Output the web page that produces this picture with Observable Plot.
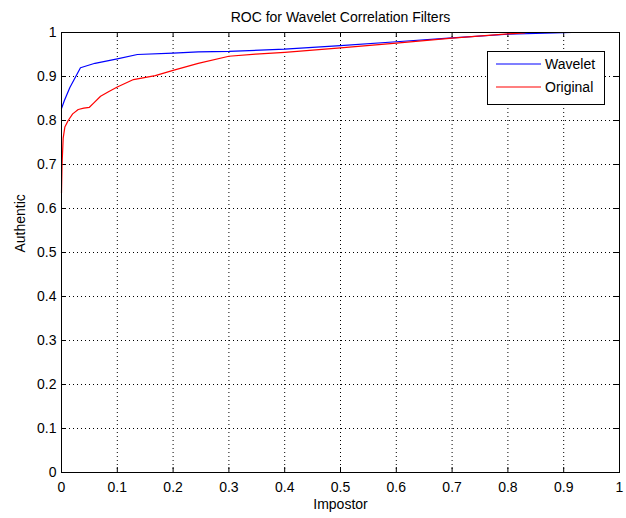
<!DOCTYPE html>
<html>
<head>
<meta charset="utf-8">
<script src="https://cdn.jsdelivr.net/npm/d3@7"></script>
<script src="https://cdn.jsdelivr.net/npm/@observablehq/plot@0.6"></script>
<style>
  html, body { margin: 0; padding: 0; background: #fff; }
  #chart { width: 626px; height: 518px; }
</style>
</head>
<body>
<div id="chart"></div>
<script>
const titleText = "ROC for Wavelet Correlation Filters";
const xLabel = "Impostor";
const yLabel = "Authentic";
const seriesNames = ["Wavelet", "Original"];
const seriesColors = ["#0000ff", "#ff0000"];

const xTicks = [0, 0.1, 0.2, 0.3, 0.4, 0.5, 0.6, 0.7, 0.8, 0.9, 1];
const yTicks = [0, 0.1, 0.2, 0.3, 0.4, 0.5, 0.6, 0.7, 0.8, 0.9, 1];

const waveletX = [0, 0.005, 0.015, 0.034, 0.06, 0.1, 0.136, 0.2, 0.245, 0.3, 0.4, 0.5, 0.6, 0.7, 0.8, 0.85, 0.915];
const waveletY = [0.827, 0.845, 0.875, 0.92, 0.93, 0.94, 0.95, 0.953, 0.956, 0.957, 0.962, 0.97, 0.979, 0.988, 0.996, 0.998, 1.0];

const originalX = [0, 0.001, 0.003, 0.006, 0.012, 0.02, 0.03, 0.04, 0.05, 0.058, 0.07, 0.085, 0.1, 0.129, 0.168, 0.2, 0.245, 0.3, 0.348, 0.4, 0.5, 0.6, 0.7, 0.8, 0.83];
const originalY = [0.635, 0.70, 0.76, 0.785, 0.80, 0.815, 0.825, 0.828, 0.83, 0.84, 0.855, 0.866, 0.876, 0.893, 0.902, 0.914, 0.93, 0.946, 0.951, 0.955, 0.965, 0.976, 0.987, 0.997, 0.999];

const wavelet = waveletX.map((x, i) => ({x, y: waveletY[i]}));
const original = originalX.map((x, i) => ({x, y: originalY[i]}));

const W = 626, H = 518;
const mL = 61, mR = 7, mT = 32, mB = 46;
const innerW = W - mL - mR, innerH = H - mT - mB;
const tickLen = 5;
const fmt = d => String(d);

const plot = Plot.plot({
  width: W,
  height: H,
  marginLeft: mL,
  marginRight: mR,
  marginTop: mT,
  marginBottom: mB,
  style: {fontFamily: "'Liberation Sans', Arial, sans-serif", fontSize: "14px", background: "#fff", color: "#000"},
  x: {domain: [0, 1], ticks: xTicks, tickFormat: fmt},
  y: {domain: [0, 1], ticks: yTicks, tickFormat: fmt},
  marks: [
    Plot.gridX(xTicks, {stroke: "#000", strokeOpacity: 1, strokeDasharray: "1,3", strokeWidth: 1}),
    Plot.gridY(yTicks, {stroke: "#000", strokeOpacity: 1, strokeDasharray: "1,3", strokeWidth: 1}),
    Plot.tickX(xTicks, {x: d => d, insetTop: innerH - tickLen, stroke: "#000"}),
    Plot.tickX(xTicks, {x: d => d, insetBottom: innerH - tickLen, stroke: "#000"}),
    Plot.tickY(yTicks, {y: d => d, insetRight: innerW - tickLen, stroke: "#000"}),
    Plot.tickY(yTicks, {y: d => d, insetLeft: innerW - tickLen, stroke: "#000"}),
    Plot.axisX(xTicks, {tickSize: 0, tickPadding: 10, tickFormat: fmt, label: null, fill: "#000"}),
    Plot.axisY(yTicks, {tickSize: 0, tickPadding: 5, tickFormat: fmt, label: null, fill: "#000"}),
    Plot.line(wavelet, {x: "x", y: "y", stroke: seriesColors[0], strokeWidth: 1.2}),
    Plot.line(original, {x: "x", y: "y", stroke: seriesColors[1], strokeWidth: 1.2}),
    Plot.frame({stroke: "#000", strokeWidth: 1}),
    Plot.text([titleText], {frameAnchor: "top", dy: -20, fill: "#000"}),
    Plot.text([xLabel], {frameAnchor: "bottom", dy: 36, fill: "#000"}),
    Plot.text([yLabel], {frameAnchor: "left", dx: -41, rotate: -90, fill: "#000"})
  ]
});

document.getElementById("chart").appendChild(plot);

// Legend inside the plot area (top-right), positioned relative to the frame
const svg = d3.select(plot);
const xr = plot.scale("x").range;
const yr = plot.scale("y").range;
const frameRight = Math.max(xr[0], xr[1]);
const frameTop = Math.min(yr[0], yr[1]);
const boxW = 117, boxH = 53;
const bx = frameRight - 15 - boxW;
const by = frameTop + 19;
const g = svg.append("g")
  .attr("font-family", "'Liberation Sans', Arial, sans-serif")
  .attr("font-size", 14)
  .attr("text-anchor", "start");
g.append("rect").attr("x", bx + 0.5).attr("y", by + 0.5).attr("width", boxW).attr("height", boxH)
  .attr("fill", "#fff").attr("stroke", "#000").attr("stroke-width", 1);
seriesNames.forEach((name, i) => {
  const ly = by + 13 + i * 23;
  g.append("line").attr("x1", bx + 9).attr("x2", bx + 54).attr("y1", ly).attr("y2", ly)
    .attr("stroke", seriesColors[i]).attr("stroke-width", 1.2);
  g.append("text").attr("x", bx + 58).attr("y", ly).attr("dy", "0.35em")
    .attr("text-anchor", "start").attr("fill", "#000").text(name);
});
</script>
</body>
</html>
